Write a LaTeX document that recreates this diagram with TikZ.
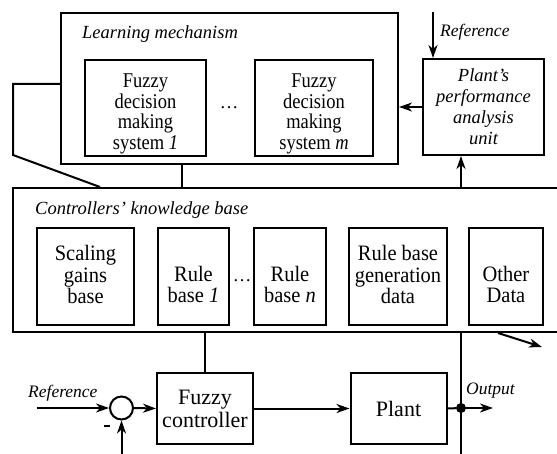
\documentclass[tikz,border=0pt]{standalone}
\usepackage{fontspec}
\setmainfont{Liberation Serif}
\newfontfamily\fboxfont{Liberation Serif}[FakeStretch=0.88]
\newfontfamily\kboxfont{Liberation Serif}[FakeStretch=0.93]
\usetikzlibrary{arrows.meta}
\tikzset{
  box/.style={draw, line width=2pt, inner sep=0pt},
  txt/.style={align=center, inner sep=0pt},
  ftxt/.style={txt, font=\fboxfont\fontsize{21}{20.5}\selectfont},
  ktxt/.style={txt, font=\kboxfont\fontsize{22}{21.5}\selectfont},
  btxt/.style={txt, font=\fontsize{22}{23}\selectfont},
  itxt/.style={txt, font=\fontsize{18.5}{21}\selectfont\itshape},
  sig/.style={line width=2pt},
  arr/.style={line width=2pt, -{Stealth[length=13pt,width=9pt,inset=4pt]}},
  lbl/.style={font=\fontsize{17.5}{20}\selectfont\itshape, inner sep=0pt},
  ttl/.style={font=\fontsize{18.5}{21}\selectfont\itshape, inner sep=0pt},
  dotsn/.style={font=\fontsize{18.5}{21}\selectfont, inner sep=0pt},
}
\begin{document}
\begin{tikzpicture}[x=1pt,y=-1pt]
\useasboundingbox (0,0) rectangle (557,454);
\clip (0,0) rectangle (557,454);
% Learning mechanism
\node[box, minimum width=337pt, minimum height=151pt] (LM) at (229.5,88.5) {};
\node[ttl, anchor=base west] (LMt) at (82,39) {Learning mechanism};
\node[box, minimum width=121pt, minimum height=96pt] (F1) at (145.5,108) {};
\node[ftxt, yshift=-6pt] (F1t) at (F1.center) {Fuzzy\\decision\\making\\system \textit{1}};
\node[dotsn] (d1) at (229,108) {\dots};
\node[box, minimum width=118pt, minimum height=96pt] (Fm) at (314,108) {};
\node[ftxt, yshift=-6pt] (Fmt) at (Fm.center) {Fuzzy\\decision\\making\\system \textit{m}};
% Plant's performance analysis unit
\node[box, minimum width=121pt, minimum height=96pt] (PA) at (483.5,107) {};
\node[itxt] (PAt) at (PA.center) {Plant's\\performance\\analysis\\unit};
% Knowledge base
\node[box, minimum width=587pt, minimum height=144pt] (KB) at (306.5,260) {};
\node[ttl, anchor=base west] (KBt) at (35,215) {Controllers' knowledge base};
\node[box, minimum width=97pt, minimum height=97pt] (SG) at (85.5,276.5) {};
\node[ktxt, yshift=2pt] (SGt) at (SG.center) {Scaling\\gains\\base};
\node[box, minimum width=71pt, minimum height=97pt] (RB1) at (193.5,276.5) {};
\node[ktxt, yshift=-8pt] (RB1t) at (RB1.center) {Rule\\base \textit{1}};
\node[dotsn] (d2) at (242,281) {\dots};
\node[box, minimum width=72pt, minimum height=97pt] (RBn) at (290,276.5) {};
\node[ktxt, yshift=-8pt] (RBnt) at (RBn.center) {Rule\\base \textit{n}};
\node[box, minimum width=98pt, minimum height=97pt] (RBG) at (398,276.5) {};
\node[ktxt, yshift=2pt] (RBGt) at (RBG.center) {Rule base\\generation\\data};
\node[box, minimum width=74pt, minimum height=97pt] (OD) at (506,276.5) {};
\node[ktxt, yshift=-8pt] (ODt) at (OD.center) {Other\\Data};
% Control loop
\node[box, minimum width=96pt, minimum height=71pt] (FC) at (205,408.5) {};
\node[btxt] (FCt) at (FC.center) {Fuzzy\\controller};
\node[box, minimum width=96pt, minimum height=71pt] (PL) at (398.5,408.5) {};
\node[btxt] (PLt) at (PL.center) {Plant};
\node[draw, circle, line width=2pt, minimum size=23pt, inner sep=0pt] (S) at (121.5,408) {};
\node[fill, circle, inner sep=0pt, minimum size=10pt] (O) at (461,408) {};
% labels
\node[lbl, anchor=base west] (rt) at (440,37) {Reference};
\node[lbl, anchor=base west] (rb) at (28,397) {Reference};
\node[lbl, anchor=base west] (ot) at (466,394) {Output};
\node[inner sep=0pt] (mn) at (106.5,426) {\rule{6pt}{2.2pt}};
% coordinates
\coordinate (reftop) at (433,12);
\coordinate (refin) at (36.5,408);
\coordinate (outend) at (493,408);
\coordinate (fbend) at (121.5,454);
\coordinate (obot) at (461,454);
\coordinate (l1) at (13,84);
\coordinate (l2) at (13,155);
\coordinate (kbarr) at (542,347);
% connectors
\draw[arr] (reftop) -- (reftop |- PA.north);
\draw[arr] (PA.west) -- (PA.west -| LM.east);
\draw[arr] (KB.north -| O) -- (PA.south -| O);
\draw[sig] (LM.south -| 182,0) -- (KB.north -| 182,0);
\draw[sig] (LM.west |- l1) -- (l1) -- (l2) -- (KB.north -| 100,0);
\draw[sig] (KB.south -| FC.north) -- (FC.north);
\draw[arr] (FC.east) -- (PL.west);
\draw[sig] (PL.east) -- (O);
\draw[arr] (O) -- (outend);
\draw[sig] (KB.south -| O) -- (obot);
\draw[arr] (KB.south -| 498,0) -- (kbarr);
\draw[arr] (refin) -- (S.west);
\draw[arr] (S.east) -- (FC.west);
\draw[arr] (fbend) -- (S.south);
\end{tikzpicture}
\end{document}
